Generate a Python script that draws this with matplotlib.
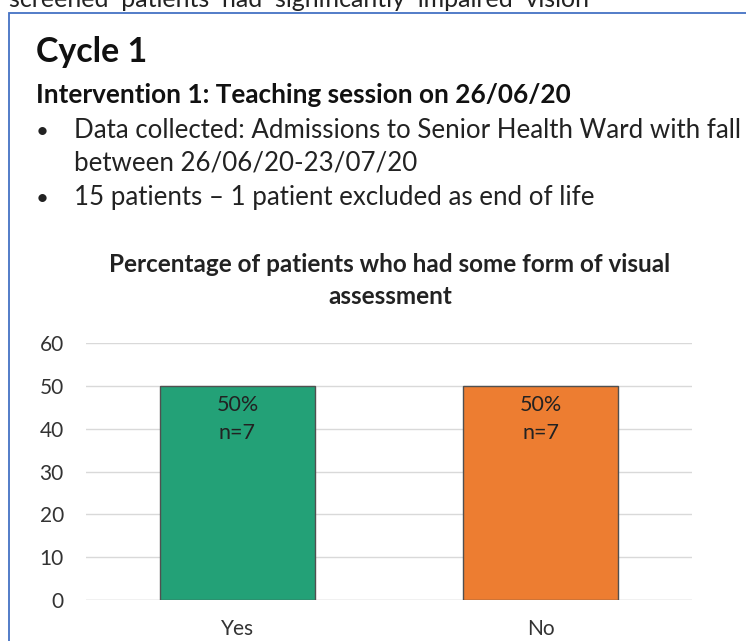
import matplotlib
matplotlib.use("Agg")
import matplotlib.pyplot as plt
from matplotlib.patches import Rectangle

categories = ["Yes", "No"]
percent = [50, 50]
counts = [7, 7]
colors = ["#23A177", "#ED7D31"]
yticks = [0, 10, 20, 30, 40, 50, 60]

W, H = 746, 641
plt.rcParams['font.family'] = ['Lato', 'DejaVu Sans']

fig = plt.figure(figsize=(W / 100, H / 100), dpi=100)


def fx(px):
    return px / W


def fy(py):
    return 1 - py / H


# cut-off text from above
fig.text(fx(9), fy(7), "screened  patients  had  significantly  impaired  vision",
         fontsize=18, color="#222222", va="baseline")

# blue frame
fig.patches.append(Rectangle((fx(8.5), -0.1), 1.2, fy(13) + 0.1, transform=fig.transFigure,
                             fill=False, edgecolor="#4472C4", linewidth=1.3))

fig.text(fx(36), fy(62), "Cycle 1", fontsize=24.5, fontweight="bold", color="#111111", va="baseline")
fig.text(fx(36), fy(103), "Intervention 1: Teaching session on 26/06/20", fontsize=18.8,
         fontweight="bold", color="#111111", va="baseline")
bullets = [(138, "Data collected: Admissions to Senior Health Ward with fall", True),
           (170, "between 26/06/20-23/07/20", False),
           (205, "15 patients \u2013 1 patient excluded as end of life", True)]
for y, txt, dot in bullets:
    if dot:
        fig.text(fx(36), fy(y), "\u2022", fontsize=16, color="#222222", va="baseline")
    fig.text(fx(74), fy(y), txt, fontsize=18.6, color="#222222", va="baseline")

fig.text(fx(390), fy(272), "Percentage of patients who had some form of visual",
         fontsize=17.5, fontweight="bold", color="#222222", ha="center", va="baseline")
fig.text(fx(390), fy(304), "assessment",
         fontsize=17.5, fontweight="bold", color="#222222", ha="center", va="baseline")

ax = fig.add_axes([fx(86), 41 / H, fx(692) - fx(86), 257 / H])
x = range(len(categories))
bars = ax.bar(x, percent, width=0.51, color=colors, edgecolor="#505050", linewidth=1, zorder=3)
ax.set_xlim(-0.5, 1.5)
ax.set_ylim(0, 60)
ax.set_yticks(yticks)
ax.set_xticks(list(x))
ax.set_xticklabels(categories)
ax.grid(axis="y", color="#D9D9D9", linewidth=1, zorder=0)
ax.axhline(0, color="#D9D9D9", linewidth=1, zorder=1)
for s in ax.spines.values():
    s.set_visible(False)
ax.tick_params(axis="both", length=0, labelsize=15, labelcolor="#333333")
ax.tick_params(axis="y", pad=16)
ax.tick_params(axis="x", pad=14)

for b, p, n in zip(bars, percent, counts):
    ax.text(b.get_x() + b.get_width() / 2, p - 2.2, f"{p}%\nn={n}", ha="center", va="top",
            fontsize=15.5, color="#222222", linespacing=1.5, zorder=4)

fig.savefig("out.png", dpi=100)
